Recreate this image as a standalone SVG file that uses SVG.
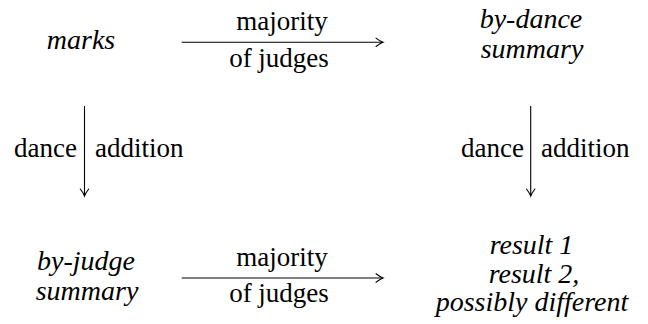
<svg xmlns="http://www.w3.org/2000/svg" width="648" height="324" viewBox="0 0 648 324">
<style>
  .tx { font-family: Liberation Serif, DejaVu Serif, serif; font-size: 27px; fill: #000; }
  .it { font-style: italic; font-size: 28px; }
  .m { text-anchor: middle; }
  .e { text-anchor: end; }
  .edge { stroke: #000; stroke-width: 1.1; fill: none; }
</style>
<defs>
  <marker id="tip" markerUnits="userSpaceOnUse" viewBox="-9 -6 11 12" markerWidth="11" markerHeight="12" refX="0" refY="0" orient="auto">
    <path d="M -7 -4.2 Q -2.5 -0.8 0 0 Q -2.5 0.8 -7 4.2" stroke="#000" stroke-width="1.1" fill="none" stroke-linecap="round"/>
  </marker>
</defs>
<rect width="648" height="324" fill="#fff"/>
<g id="connectors">
  <g id="top-arrow">
    <line class="edge" x1="181.7" y1="42.3" x2="383" y2="42.3" marker-end="url(#tip)"/>
    <text class="tx m" x="282" y="30">majority</text>
    <text class="tx m" x="279" y="67">of judges</text>
  </g>
  <g id="bottom-arrow">
    <line class="edge" x1="181.7" y1="278" x2="383" y2="278" marker-end="url(#tip)"/>
    <text class="tx m" x="282" y="266">majority</text>
    <text class="tx m" x="279" y="302">of judges</text>
  </g>
  <g id="left-arrow">
    <line class="edge" x1="84.5" y1="106" x2="84.5" y2="196" marker-end="url(#tip)"/>
    <text class="tx e" x="77" y="157">dance</text>
    <text class="tx" x="95" y="157">addition</text>
  </g>
  <g id="right-arrow">
    <line class="edge" x1="530.7" y1="106" x2="530.7" y2="196" marker-end="url(#tip)"/>
    <text class="tx e" x="524" y="157">dance</text>
    <text class="tx" x="541" y="157">addition</text>
  </g>
</g>
<g id="node-marks">
  <text class="tx it m" x="81" y="49">marks</text>
</g>
<g id="node-by-dance">
  <text class="tx it m" x="531" y="28">by-dance</text>
  <text class="tx it m" x="532" y="58">summary</text>
</g>
<g id="node-by-judge">
  <text class="tx it m" x="86" y="270">by-judge</text>
  <text class="tx it m" x="87" y="300">summary</text>
</g>
<g id="node-result">
  <text class="tx it m" x="531.5" y="254">result 1</text>
  <text class="tx it m" x="534" y="283">result 2,</text>
  <text class="tx it m" x="532" y="311">possibly different</text>
</g>
</svg>
